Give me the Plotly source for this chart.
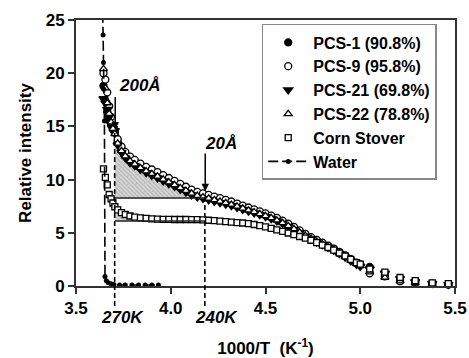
import plotly.graph_objects as go

# ---------------- data ----------------
x_pcs = [3.645, 3.655, 3.665, 3.675, 3.685, 3.695, 3.705, 3.72, 3.74, 3.76, 3.785, 3.81,
         3.84, 3.87, 3.90, 3.93, 3.96, 3.99, 4.02, 4.05, 4.08, 4.11, 4.14, 4.17, 4.20,
         4.23, 4.26, 4.29, 4.32, 4.35, 4.38, 4.41, 4.44, 4.47, 4.50, 4.53, 4.56, 4.59,
         4.62, 4.65, 4.68, 4.71, 4.74, 4.77, 4.80, 4.83, 4.86, 4.89, 4.92, 4.95, 4.98,
         5.00, 5.05, 5.13, 5.21, 5.29, 5.38, 5.465]

pcs1 = [18.8, 17.4, 16.4, 15.7, 15.1, 14.7, 14.4,
        13.6, 12.9, 12.4, 11.95, 11.65, 11.3, 11.0, 10.75, 10.5, 10.23, 9.97, 9.7, 9.43,
        9.17, 8.9, 8.7, 8.55, 8.42, 8.27, 8.12, 7.98, 7.82, 7.64, 7.46, 7.28, 7.1, 6.92,
        6.73, 6.53, 6.32, 6.07, 5.79, 5.48, 5.16, 4.84, 4.55, 4.28, 4.02, 3.76, 3.48,
        3.16, 2.84, 2.48, 2.15, 1.98, 1.8, 1.1, 0.6, 0.35, 0.22, 0.14]
pcs9 = [20.0, 19.4, 18.2, 16.9, 15.9, 15.0, 14.6,
        13.8, 13.1, 12.6, 12.15, 11.85, 11.5, 11.2, 10.95, 10.7, 10.42, 10.15, 9.88, 9.6,
        9.33, 9.06, 8.85, 8.7, 8.56, 8.4, 8.25, 8.1, 7.94, 7.75, 7.56, 7.38, 7.2, 7.02,
        6.82, 6.62, 6.4, 6.15, 5.86, 5.55, 5.22, 4.9, 4.6, 4.33, 4.07, 3.8, 3.52,
        3.2, 2.88, 2.52, 2.2, 2.02, 1.2, 0.9, 0.45, 0.3, 0.2, 0.15]
pcs21 = [17.6, 17.2, 16.6, 15.9, 15.2, 14.8, 14.6,
         13.25, 12.55, 12.05, 11.6, 11.3, 10.95, 10.65, 10.4, 10.15, 9.88, 9.62, 9.35, 9.08,
         8.82, 8.56, 8.36, 8.22, 8.1, 7.96, 7.83, 7.7, 7.55, 7.38, 7.2, 7.03, 6.87, 6.7,
         6.52, 6.32, 6.12, 5.88, 5.6, 5.3, 5.0, 4.68, 4.4, 4.13, 3.88, 3.62, 3.35,
         3.04, 2.72, 2.36, 2.03, 1.85, 1.6, 1.2, 0.7, 0.4, 0.25, 0.15]
pcs22 = [20.4, 18.6, 17.2, 16.2, 15.4, 14.8, 14.3,
         13.4, 12.7, 12.2, 11.75, 11.45, 11.1, 10.8, 10.55, 10.3, 10.03, 9.77, 9.5, 9.23,
         8.97, 8.7, 8.5, 8.35, 8.24, 8.1, 7.96, 7.82, 7.66, 7.48, 7.3, 7.12, 6.96, 6.78,
         6.6, 6.4, 6.18, 5.94, 5.66, 5.37, 5.05, 4.73, 4.45, 4.18, 3.93, 3.67, 3.4,
         3.08, 2.76, 2.4, 2.08, 1.9, 1.3, 0.8, 0.45, 0.28, 0.18, 0.1]
corn = [11.0, 10.2, 9.5, 8.6, 8.2, 7.8, 7.45,
        7.15, 6.9, 6.72, 6.58, 6.48, 6.4, 6.35, 6.3, 6.28, 6.27, 6.26, 6.25, 6.25,
        6.25, 6.24, 6.23, 6.22, 6.18, 6.14, 6.1, 6.05, 6.0, 5.96, 5.92, 5.86, 5.78, 5.67,
        5.55, 5.42, 5.28, 5.13, 4.98, 4.82, 4.65, 4.5, 4.3, 4.08, 3.85, 3.62, 3.38,
        3.1, 2.82, 2.5, 2.2, 2.05, 1.6, 1.3, 0.8, 0.5, 0.3, 0.22]

x_water = [3.640, 3.643, 3.645, 3.647, 3.650, 3.653, 3.660, 3.670, 3.685, 3.700,
           3.730, 3.760, 3.795, 3.830, 3.865, 3.900, 3.935]
y_water = [27.0, 23.6, 21.0, 18.5, 15.5, 0.9, 0.5, 0.3, 0.2, 0.15,
           0.1, 0.1, 0.1, 0.1, 0.1, 0.1, 0.1]

series_names = ["PCS-1 (90.8%)", "PCS-9 (95.8%)", "PCS-21 (69.8%)",
                "PCS-22 (78.8%)", "Corn Stover", "Water"]

x_270K = 3.704      # 1000/270
x_240K = 4.18       # as drawn
level_200 = 8.27    # horizontal reference (upper shaded region)
level_cs = 6.12     # horizontal reference (corn stover region)
top_270 = 14.6
top_240 = 8.5

x_ticks = [3.5, 4.0, 4.5, 5.0, 5.5]
x_tick_text = ["3.5", "4.0", "4.5", "5.0", "5.5"]
y_ticks = [0, 5, 10, 15, 20, 25]
XMIN, XMAX, YMIN, YMAX = 3.5, 5.5, 0, 25

FONT = "Liberation Sans, Arial, sans-serif"

# ---------------- figure ----------------
fig = go.Figure()

i0 = x_pcs.index(3.705)
i1 = x_pcs.index(4.17) + 1
xs = x_pcs[i0:i1]
pattern = dict(shape="\\", fgcolor="#8a8a8a", bgcolor="#d6d6d6", size=3, solidity=0.35)

# shaded regions (between curves and horizontal references)
fig.add_trace(go.Scatter(x=xs, y=[level_200] * len(xs), mode="lines",
                         line=dict(width=0), showlegend=False, hoverinfo="skip"))
fig.add_trace(go.Scatter(x=xs, y=pcs22[i0:i1], mode="lines", line=dict(width=0),
                         fill="tonexty", fillpattern=pattern, fillcolor="#d6d6d6",
                         showlegend=False, hoverinfo="skip"))
fig.add_trace(go.Scatter(x=xs, y=[level_cs] * len(xs), mode="lines",
                         line=dict(width=0), showlegend=False, hoverinfo="skip"))
fig.add_trace(go.Scatter(x=xs, y=corn[i0:i1], mode="lines", line=dict(width=0),
                         fill="tonexty", fillpattern=pattern, fillcolor="#d6d6d6",
                         showlegend=False, hoverinfo="skip"))

mk_line = dict(color="black", width=1.3)
fig.add_trace(go.Scatter(x=x_pcs, y=pcs1, mode="markers", name=series_names[0],
                         marker=dict(symbol="circle", size=7, color="black",
                                     line=mk_line), cliponaxis=False))
fig.add_trace(go.Scatter(x=x_pcs, y=pcs9, mode="markers", name=series_names[1],
                         marker=dict(symbol="circle", size=7, color="white",
                                     line=mk_line), cliponaxis=False))
fig.add_trace(go.Scatter(x=x_pcs, y=pcs21, mode="markers", name=series_names[2],
                         marker=dict(symbol="triangle-down", size=8, color="black",
                                     line=mk_line), cliponaxis=False))
fig.add_trace(go.Scatter(x=x_pcs, y=pcs22, mode="markers", name=series_names[3],
                         marker=dict(symbol="triangle-up", size=7, color="white",
                                     line=mk_line), cliponaxis=False))
fig.add_trace(go.Scatter(x=x_pcs, y=corn, mode="markers", name=series_names[4],
                         marker=dict(symbol="square", size=6, color="white",
                                     line=mk_line), cliponaxis=False))
fig.add_trace(go.Scatter(x=x_water, y=y_water, mode="lines+markers", name=series_names[5],
                         line=dict(color="black", width=1.6, dash="10px,4px"),
                         marker=dict(symbol="circle", size=5, color="black"),
                         cliponaxis=False))

# reference lines
shapes = []
for xv, top in [(x_270K, top_270), (x_240K, top_240)]:
    shapes.append(dict(type="line", xref="x", yref="paper", x0=xv, x1=xv,
                       y0=-0.075, y1=(top - YMIN) / (YMAX - YMIN),
                       line=dict(color="black", width=1.6, dash="5px,3px")))
for lv in [level_200, level_cs]:
    shapes.append(dict(type="line", xref="x", yref="y", x0=x_270K, x1=x_240K,
                       y0=lv, y1=lv, line=dict(color="#222", width=1.5)))

ann_font = dict(family=FONT, size=17, color="black")
annotations = [
    dict(x=x_270K + 0.003, y=14.7, ax=x_270K + 0.003, ay=17.9, axref="x", ayref="y",
         xref="x", yref="y", text="", showarrow=True, arrowhead=2, arrowsize=1,
         arrowwidth=1.5, arrowcolor="black"),
    dict(x=x_240K + 0.002, y=8.9, ax=x_240K + 0.002, ay=12.6, axref="x", ayref="y",
         xref="x", yref="y", text="", showarrow=True, arrowhead=2, arrowsize=1,
         arrowwidth=1.5, arrowcolor="black"),
    dict(x=3.715, y=18.85, xref="x", yref="y", text="<b><i>200Å</i></b>",
         showarrow=False, xanchor="left", yanchor="middle", font=ann_font),
    dict(x=4.17, y=13.4, xref="x", yref="y", text="<b><i>20Å</i></b>",
         showarrow=False, xanchor="left", yanchor="middle", font=ann_font),
    dict(x=3.743, y=-0.12, xref="x", yref="paper", text="<b><i>270K</i></b>",
         showarrow=False, xanchor="center", yanchor="middle", font=ann_font),
    dict(x=4.24, y=-0.12, xref="x", yref="paper", text="<b><i>240K</i></b>",
         showarrow=False, xanchor="center", yanchor="middle", font=ann_font),
]

fig.update_layout(
    width=469, height=358,
    margin=dict(l=76, r=14, t=20, b=72, autoexpand=False),
    paper_bgcolor="white", plot_bgcolor="white",
    font=dict(family=FONT, size=17, color="black", weight="bold"),
    showlegend=True,
    legend=dict(x=0.49, y=0.985, xanchor="left", yanchor="top",
                bgcolor="white", bordercolor="#888", borderwidth=1.5,
                font=dict(family=FONT, size=16, color="black", weight="bold"),
                traceorder="normal", itemwidth=40),
    shapes=shapes,
    annotations=annotations,
)

fig.update_xaxes(range=[XMIN, XMAX], tickvals=x_ticks, ticktext=x_tick_text,
                 showgrid=False, zeroline=False, showline=True, mirror=True,
                 linecolor="#333", linewidth=2, ticks="outside", ticklen=6,
                 tickcolor="#333", tickwidth=1.5, automargin=False,
                 tickfont=dict(family=FONT, size=17, weight="bold"),
                 title=dict(text="1000/T  (K<sup>-1</sup>)", standoff=26,
                            font=dict(family=FONT, size=17, weight="bold")))
fig.update_yaxes(range=[YMIN, YMAX], tickvals=y_ticks,
                 showgrid=False, zeroline=False, showline=True, mirror=True,
                 linecolor="#333", linewidth=2, ticks="outside", ticklen=6,
                 tickcolor="#333", tickwidth=1.5, automargin=False,
                 tickfont=dict(family=FONT, size=17, weight="bold"),
                 title=dict(text="Relative intensity", standoff=10,
                            font=dict(family=FONT, size=17, weight="bold")))

fig.write_html("out.html")
